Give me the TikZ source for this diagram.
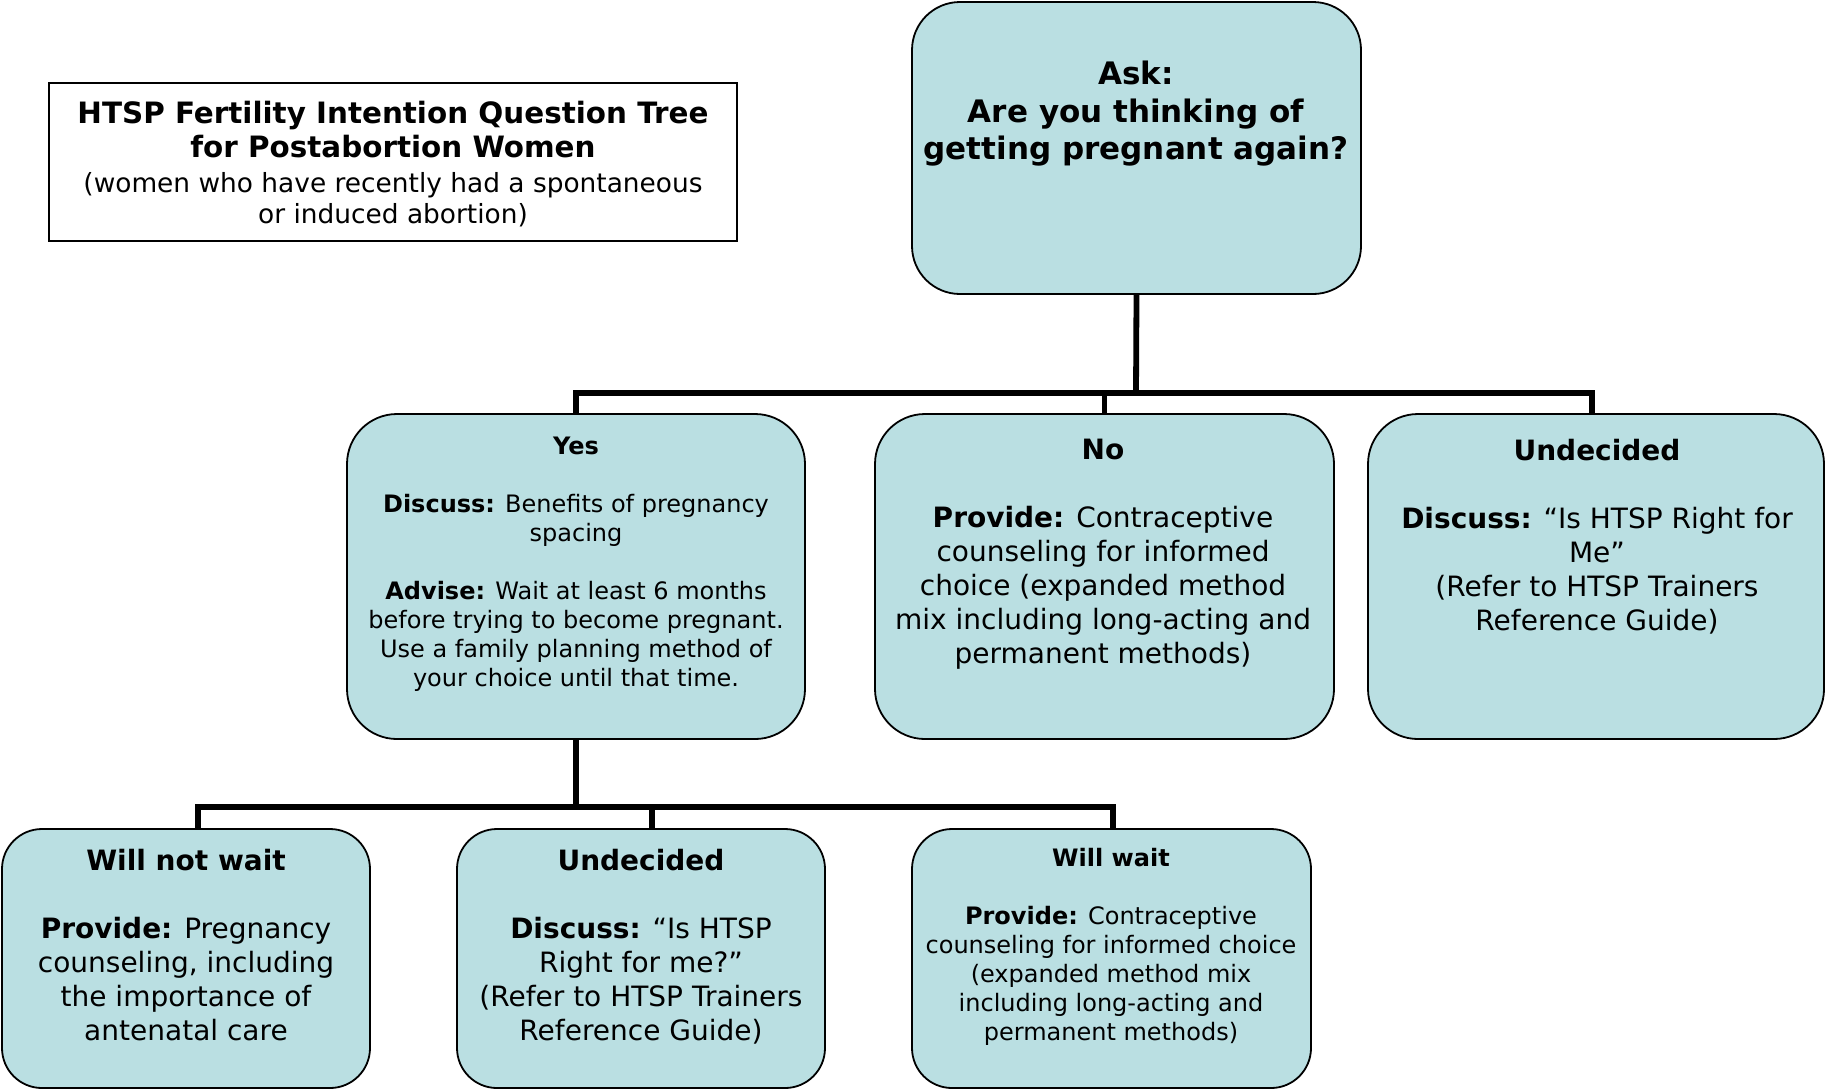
\documentclass[tikz,border=0pt]{standalone}
\usepackage{fontspec}
\setmainfont{DejaVu Sans}
\usetikzlibrary{calc}
\definecolor{boxfill}{RGB}{186,223,226}
\tikzset{
  box/.style={draw=black, line width=0.9pt, fill=boxfill, inner sep=0pt},
  midbox/.style={box, rounded corners=25pt, minimum height=162.5pt},
  lowbox/.style={box, rounded corners=20pt, minimum height=129.5pt},
  boxtext/.style={anchor=north, align=center, inner sep=0pt},
  bigtext/.style={boxtext, font=\fontsize{14}{17}\selectfont},
  smalltext/.style={boxtext, font=\fontsize{12}{14.5}\selectfont},
  link/.style={line width=2.9pt, draw=black},
}
\begin{document}
\begin{tikzpicture}[x=0.5pt,y=-0.5pt]
\useasboundingbox (0,0) rectangle (1825,1089);

% title panel
\node[draw=black, line width=1.1pt, minimum width=344pt, minimum height=79pt, inner sep=0pt] (title) at (393,162) {};
\node[boxtext, font=\fontsize{14.7}{17}\selectfont\bfseries] (titlehead) at (393,101)
  {HTSP Fertility Intention Question Tree\\for Postabortion Women};
\node[boxtext, font=\fontsize{13.2}{15.5}\selectfont] (titlesub) at (393,172)
  {(women who have recently had a spontaneous\\or induced abortion)};

% boxes
\node[box, rounded corners=24pt, minimum width=224.5pt, minimum height=146pt] (ask) at (1136.5,148) {};
\node[midbox, minimum width=229pt] (yes) at (576,576.5) {};
\node[midbox, minimum width=229.5pt] (no) at (1104.5,576.5) {};
\node[midbox, minimum width=228pt] (undR) at (1596,576.5) {};
\node[lowbox, minimum width=184pt] (wnw) at (186,958.5) {};
\node[lowbox, minimum width=184pt] (undB) at (641,958.5) {};
\node[lowbox, minimum width=199.5pt] (ww) at (1111.5,958.5) {};

% connectors
\coordinate (hub1) at (1136,393);
\coordinate (hub2) at (576,807);
\draw[link] (ask.south) -- (hub1);
\draw[link] (yes.north) |- (hub1);
\draw[link] ($(undR.north)+(-4,0)$) |- (hub1);
\draw[link] (no.north) -- (no.north |- hub1);
\draw[link] (yes.south) -- (hub2);
\draw[link] ($(wnw.north)+(12,0)$) |- (hub2);
\draw[link] ($(ww.north)+(1.5,0)$) |- (hub2);
\draw[link] ($(undB.north)+(11,0)$) |- (hub2);

% box texts
\node[boxtext, font=\fontsize{15.5}{18.75}\selectfont\bfseries] (askt) at (1136,61)
  {Ask:\\Are you thinking of\\getting pregnant again?};
\node[smalltext] (yest) at (576,437)
  {\textbf{Yes}\\[14.5pt]
   \textbf{Discuss:} Benefits of pregnancy\\spacing\\[14.5pt]
   \textbf{Advise:} Wait at least 6 months\\before trying to become pregnant.\\
   Use a family planning method of\\your choice until that time.};
\node[bigtext] (not) at (1103,439)
  {\textbf{No}\\[17pt]
   \textbf{Provide:} Contraceptive\\counseling for informed\\
   choice (expanded method\\mix including long-acting and\\permanent methods)};
\node[bigtext] (undRt) at (1597,438.5)
  {\textbf{Undecided}\\[17pt]
   \textbf{Discuss:} “Is HTSP Right for\\Me”\\
   (Refer to HTSP Trainers\\Reference Guide)};
\node[bigtext] (wnwt) at (186,848.5)
  {\textbf{Will not wait}\\[17pt]
   \textbf{Provide:} Pregnancy\\counseling, including\\the importance of\\antenatal care};
\node[bigtext] (undBt) at (641,848.5)
  {\textbf{Undecided}\\[17pt]
   \textbf{Discuss:} “Is HTSP\\Right for me?”\\
   (Refer to HTSP Trainers\\Reference Guide)};
\node[smalltext] (wwt) at (1111,848)
  {\textbf{Will wait}\\[14.5pt]
   \textbf{Provide:} Contraceptive\\counseling for informed choice\\
   (expanded method mix\\including long-acting and\\permanent methods)};
\end{tikzpicture}
\end{document}
